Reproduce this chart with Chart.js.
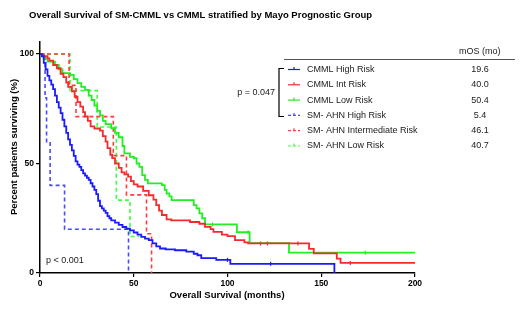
<!DOCTYPE html>
<html>
<head>
<meta charset="utf-8">
<script src="https://cdn.jsdelivr.net/npm/chart.js@4"></script>
<style>
  html, body { margin: 0; padding: 0; background: #fff; }
  #wrap { width: 520px; height: 309px; position: relative; }
</style>
</head>
<body>
<div id="wrap"><canvas id="km" width="520" height="309"></canvas></div>
<script>
// Kaplan-Meier steps: [month, % surviving after the event]
const cmmlHigh = [[0,100],[1,99],[2,96],[3,93],[4,90],[5,88],[6,86],[7,84],[8,81],[9,78],[10,75.5],[11,73],[12,70],[13,67],[14,64],[15,61],[16,58.5],[17,56],[18,53.5],[19,51],[20,49.5],[21,48.5],[22,47],[23,45.5],[24,44.5],[25,43.5],[26,42.5],[27,41],[28,39.5],[29,38],[30,36],[31,33],[32,30.5],[33,29.5],[34,28.5],[35,27.5],[36,26],[37,25],[38,24],[40,23],[42,22],[44,21],[46,20.2],[48,19.5],[50,18.5],[52,17.5],[54,16.5],[56,15.7],[58,15],[60,13.5],[62,12.2],[64,11.2],[67,10.8],[72,10.4],[78,9.8],[82,8.8],[84,8.1],[86,6.8],[94,6],[101.5,4.2],[157,0]];
const cmmlInt = [[0,100],[2,99],[4,98],[5,97],[7,95],[9,93.5],[11,91],[12.5,89.5],[14,87],[15,85],[17,83],[18.5,80.5],[20,78],[21.5,76],[23,73.5],[24,71.5],[25.5,69.5],[27,67],[29,66],[32,65],[33.5,62.5],[35,60],[36,57],[37.5,54],[38.5,52.5],[40,50],[42,48],[43.5,46],[45,45],[47,44],[48.5,42],[50,40.5],[52,39.5],[55,37.5],[58,35.5],[60.5,33.5],[62,31],[63.5,28.5],[65,26.5],[67.5,24.5],[70,24],[80,23.3],[85,22.5],[88,21.1],[91,20],[92.5,18.8],[97,17.5],[100,16.8],[104,15],[109,14],[111,13.5],[143.5,11],[146,9],[158.3,6.6],[160.3,4.6],[200,4.6]];
const cmmlLow = [[0,100],[2,98],[4,96.5],[8,95],[10,93],[12,91.3],[16,90.5],[18,88.5],[20,86.7],[22,85],[24,83.6],[26,81],[27.5,79],[29,76.5],[30.5,74],[32,72],[33.5,69.5],[35,68],[38,66.1],[40,64],[42,62],[44,58],[45,54.6],[48,53],[50,52.4],[51.5,50],[53,48.5],[54.5,44.7],[56,42.5],[57.5,40.9],[65,40.1],[66.5,38],[67.5,36.3],[69,35],[70.2,33.3],[82,31],[83.5,29.5],[85,27.2],[86.5,25],[88,22.2],[105,18.6],[111.8,13.6],[132.8,9.3],[200,9.3]];
const ahnHigh = [[0,100],[2.7,80],[3.5,60],[5.4,40],[13.1,20],[47.2,0]];
const ahnInt = [[0,100],[15.5,85.7],[19.2,71.4],[39.1,53.6],[46.1,35.7],[56.8,17.9],[59.5,0]];
const ahnLow = [[0,100],[16,83.3],[30.5,66.7],[40.7,33.3],[48,16.7],[53,16.7]];

// censor ticks
const censHigh = [[100,6],[123,4.2]];
const censInt = [[117.6,13.5],[121.3,13.5],[137.6,13.5],[165.5,4.6]];
const censLow = [[92,22.2],[111,18.6],[173.5,9.3]];

const groupNames = ['CMML High Risk', 'CMML Int Risk', 'CMML Low Risk', 'SM- AHN High Risk', 'SM- AHN Intermediate Risk', 'SM- AHN Low Risk'];
const medianOS = ['19.6', '40.0', '50.4', '5.4', '46.1', '40.7'];
const colors = ['#1a1aff', '#f52a2a', '#22ee22', '#4a4aff', '#ff3d3d', '#3dff3d'];
const yTicks = [0, 50, 100];
const xTicks = [0, 50, 100, 150, 200];

const FONT = '"Liberation Sans", Arial, Helvetica, sans-serif';
const toXY = arr => arr.map(p => ({ x: p[0], y: p[1] }));

const curves = [cmmlHigh, cmmlInt, cmmlLow, ahnHigh, ahnInt, ahnLow];
const datasets = curves.map((c, i) => ({
    label: groupNames[i],
    data: toXY(c),
    borderColor: colors[i],
    borderWidth: i >= 3 ? 1.6 : 1.8,
    borderDash: i >= 3 ? [4, 3] : [],
    stepped: true,
    pointRadius: 0,
    fill: false
}));
[censHigh, censInt, censLow].forEach((c, i) => {
    datasets.push({
        type: 'scatter',
        label: 'cens' + i,
        data: toXY(c),
        pointStyle: 'line',
        rotation: 90,
        pointRadius: 2,
        borderColor: colors[i],
        borderWidth: 1.2,
        showLine: false
    });
});

const extras = {
    id: 'extras',
    afterDraw(chart) {
        const ctx = chart.ctx;
        ctx.save();
        ctx.fillStyle = '#000';
        ctx.textBaseline = 'middle';

        // title
        ctx.font = 'bold 9.5px ' + FONT;
        ctx.textAlign = 'left';
        ctx.fillText('Overall Survival of SM-CMML vs CMML stratified by Mayo Prognostic Group', 29, 15);

        // axis titles
        ctx.textAlign = 'center';
        ctx.fillText('Overall Survival (months)', 227, 295);
        ctx.save();
        ctx.translate(14, 147);
        ctx.rotate(-Math.PI / 2);
        ctx.fillText('Percent patients surviving (%)', 0, 0);
        ctx.restore();

        // legend table
        ctx.strokeStyle = '#555';
        ctx.lineWidth = 1;
        ctx.beginPath();
        ctx.moveTo(284, 59.5);
        ctx.lineTo(515, 59.5);
        ctx.stroke();

        ctx.font = '9px ' + FONT;
        ctx.textAlign = 'left';
        ctx.fillStyle = '#1a1a1a';
        ctx.fillText('mOS (mo)', 459, 52);

        groupNames.forEach((name, i) => {
            const y = 69.5 + i * 15.3;
            ctx.strokeStyle = colors[i];
            ctx.lineWidth = 1.2;
            ctx.setLineDash(i >= 3 ? [3, 2] : []);
            ctx.beginPath();
            ctx.moveTo(288, y);
            ctx.lineTo(300, y);
            ctx.stroke();
            ctx.setLineDash([]);
            ctx.beginPath();
            ctx.moveTo(294, y - 2.5);
            ctx.lineTo(294, y);
            ctx.stroke();
            ctx.fillStyle = '#1a1a1a';
            ctx.textAlign = 'left';
            ctx.fillText(name, 307, y);
            ctx.textAlign = 'center';
            ctx.fillText(medianOS[i], 480, y);
        });

        // bracket for CMML vs SM-AHN high
        ctx.strokeStyle = '#000';
        ctx.lineWidth = 1.2;
        ctx.beginPath();
        ctx.moveTo(284, 68.5);
        ctx.lineTo(279, 68.5);
        ctx.lineTo(279, 116.5);
        ctx.lineTo(284, 116.5);
        ctx.stroke();
        ctx.textAlign = 'right';
        ctx.fillText('p = 0.047', 275, 92.5);

        ctx.textAlign = 'left';
        ctx.fillText('p < 0.001', 46, 261);
        ctx.restore();
    }
};

new Chart(document.getElementById('km'), {
    type: 'line',
    data: { datasets: datasets },
    plugins: [extras],
    options: {
        responsive: false,
        animation: false,
        maintainAspectRatio: false,
        layout: { padding: { top: 42, right: 105, bottom: 0, left: 0 } },
        plugins: {
            legend: { display: false },
            tooltip: { enabled: false }
        },
        scales: {
            x: {
                type: 'linear',
                min: 0,
                max: 200,
                afterBuildTicks: s => { s.ticks = xTicks.map(v => ({ value: v })); },
                afterFit: s => { s.height = 36; },
                grid: { drawOnChartArea: false, drawTicks: true, tickLength: 4, color: '#000', lineWidth: 1.2 },
                border: { color: '#000', width: 1.5 },
                ticks: { color: '#000', font: { family: FONT, size: 8.5, weight: 'bold' }, padding: 2, maxRotation: 0 }
            },
            y: {
                type: 'linear',
                min: 0,
                max: 105.5,
                afterBuildTicks: s => { s.ticks = yTicks.map(v => ({ value: v })); },
                afterFit: s => { s.width = 40; },
                grid: { drawOnChartArea: false, drawTicks: true, tickLength: 4, color: '#000', lineWidth: 1.2 },
                border: { color: '#000', width: 1.5 },
                ticks: { color: '#000', font: { family: FONT, size: 8.5, weight: 'bold' }, padding: 2 }
            }
        }
    }
});
</script>
</body>
</html>
